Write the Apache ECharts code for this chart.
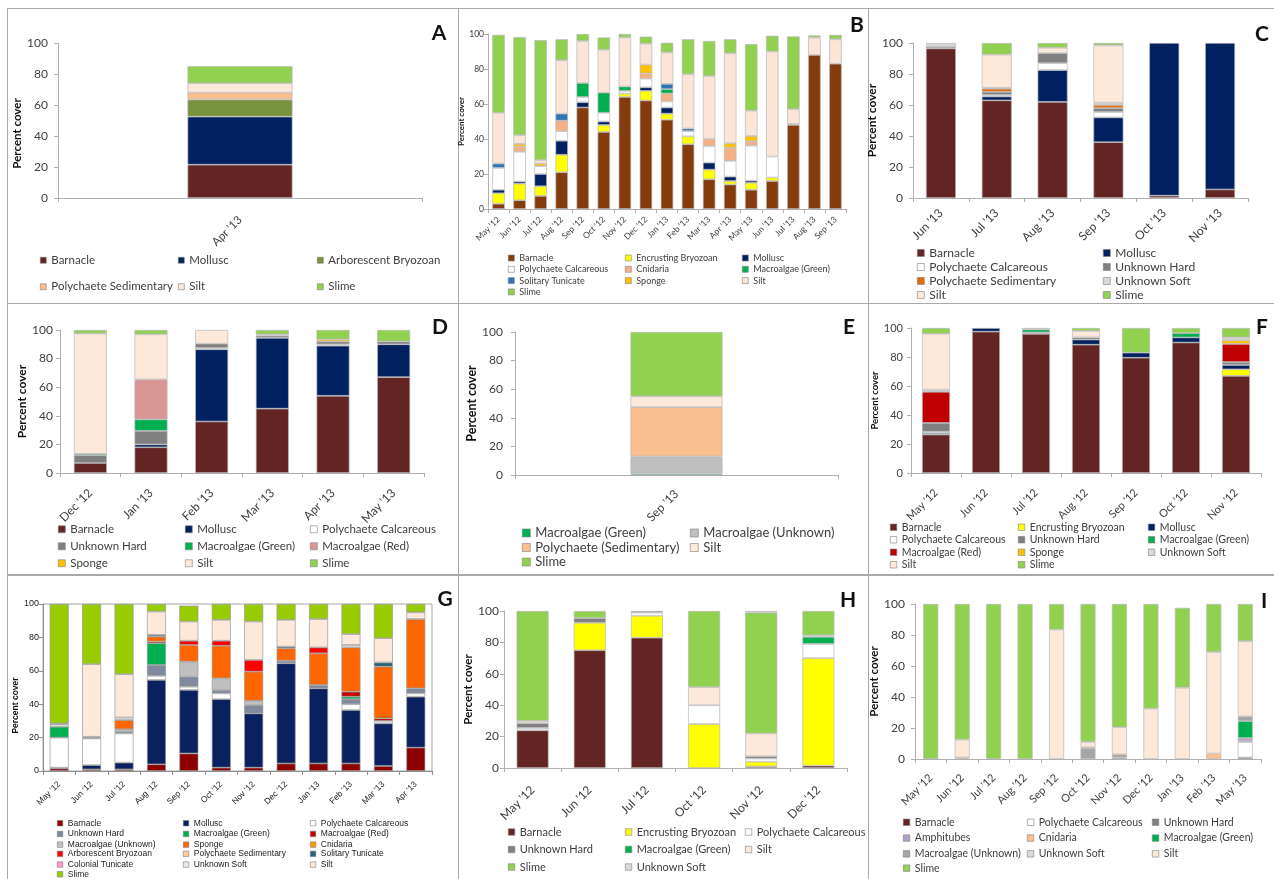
<!DOCTYPE html>
<html><head><meta charset="utf-8">
<script src="https://cdn.jsdelivr.net/npm/echarts/dist/echarts.min.js"></script>
<style>
html,body{margin:0;padding:0;background:#fff;}
body{width:1274px;height:879px;position:relative;overflow:hidden;}
.chart{position:absolute;left:0;top:0;width:1274px;height:879px;}
.rule{position:absolute;background:#a9a9a9;}
.letter{position:absolute;font:bold 21px Lato, "Open Sans", sans-serif;color:#111;transform:translate(-50%,-50%);line-height:1;}
</style></head><body>
<script>
// ---------------- DATA ----------------
// Panel A
const A_categories = ["Apr '13"];
const A_barnacle = [21.5];
const A_mollusc = [31];
const A_arborescentBryozoan = [11];
const A_polychaeteSedimentary = [4.5];
const A_silt = [6];
const A_slime = [11];

// Panel B
const B_categories = ["May '12","Jun '12","Jul '12","Aug '12","Sep '12","Oct '12","Nov '12","Dec '12","Jan '13","Feb '13","Mar '13","Apr '13","May '13","Jun '13","Jul '13","Aug '13","Sep '13"];
const B_barnacle = [3, 5, 7.5, 21, 58, 44, 64, 62, 51, 37, 17, 14, 11, 16, 48, 88, 83];
const B_encrustingBryozoan = [6, 9.5, 5.5, 10, 0, 4, 2, 5.5, 3.5, 4.5, 5.5, 2, 4, 2, 0, 0, 0];
const B_mollusc = [2, 1.2, 7, 8, 3, 2, 0, 2, 3.5, 0, 4, 2.5, 1.2, 0, 0, 0, 0];
const B_polychaeteCalcareous = [12.5, 17, 4.5, 5.5, 3, 5, 1.5, 5, 3.5, 3, 9.5, 9, 20, 12, 0.6, 0, 0];
const B_cnidaria = [0, 3, 0, 6, 0, 0, 0, 3, 4.5, 0, 4, 7.5, 2.5, 0, 0, 0, 0];
const B_macroalgaeGreen = [0, 0, 0, 0, 8, 11.5, 2.5, 0, 2.5, 0, 0, 0, 0, 0, 0, 0, 0];
const B_solitaryTunicate = [2.5, 0, 0, 4, 0, 0, 0, 0, 3, 1.5, 0, 0, 0, 0, 0, 0, 0];
const B_sponge = [0, 1.5, 1.5, 0, 0, 0, 0, 5, 0, 0, 0, 2.5, 3, 0, 0, 0, 0];
const B_silt = [29, 5, 2, 30.5, 24, 24.5, 28, 12, 18, 31, 36, 51.5, 14.5, 60, 8.5, 10, 14];
const B_slime = [44.5, 56, 68.5, 12, 4, 7, 2, 4, 5.5, 20, 20, 8, 38, 9, 41.5, 1.2, 2.5];

// Panel C
const C_categories = ["Jun '13","Jul '13","Aug '13","Sep '13","Oct '13","Nov '13"];
const C_barnacle = [96.5, 63, 62, 36, 1.5, 5.5];
const C_mollusc = [0, 2.5, 20.5, 16, 98.5, 94.5];
const C_polychaeteCalcareous = [0, 1, 4.5, 3.5, 0, 0];
const C_unknownHard = [1, 2, 6.5, 2.5, 0, 0];
const C_polychaeteSedimentary = [0, 2, 0, 2, 0, 0];
const C_unknownSoft = [2.5, 0.5, 0, 1.5, 0, 0];
const C_silt = [0, 21.5, 3.5, 37, 0, 0];
const C_slime = [0, 7.5, 3, 1.5, 0, 0];

// Panel D
const D_categories = ["Dec '12","Jan '13","Feb '13","Mar '13","Apr '13","May '13"];
const D_barnacle = [7, 18, 36, 45, 54, 67];
const D_mollusc = [0, 2, 50.5, 49.5, 35, 23];
const D_polychaeteCalcareous = [0, 0, 1, 0, 1, 0];
const D_unknownHard = [5.5, 9.5, 3, 1.5, 2, 2];
const D_macroalgaeGreen = [1, 8, 0, 0, 0, 0];
const D_macroalgaeRed = [0, 28, 0, 0, 0, 0];
const D_sponge = [0, 0, 0, 0, 1.5, 0];
const D_silt = [84, 31.5, 9.5, 1, 0, 0];
const D_slime = [2.5, 3, 0, 3, 6.5, 8];

// Panel E
const E_categories = ["Sep '13"];
const E_macroalgaeGreen = [1];
const E_macroalgaeUnknown = [12];
const E_polychaeteSedimentary = [34.5];
const E_silt = [7.5];
const E_slime = [45];

// Panel F
const F_categories = ["May '12","Jun '12","Jul '12","Aug '12","Sep '12","Oct '12","Nov '12"];
const F_barnacle = [26.5, 97.5, 96, 88.5, 79.5, 90, 67];
const F_encrustingBryozoan = [0, 0, 0, 0, 0, 0, 4.5];
const F_mollusc = [1, 2.5, 0, 3.5, 3.5, 3.5, 3];
const F_polychaeteCalcareous = [1, 0, 0, 0, 0, 0, 0];
const F_unknownHard = [6, 0, 1, 1.5, 0, 0, 2];
const F_macroalgaeGreen = [0, 0, 2, 0, 0, 3, 0];
const F_macroalgaeRed = [21.5, 0, 0, 0, 0, 0, 12.5];
const F_sponge = [0, 0, 0, 0, 0, 0, 2.5];
const F_unknownSoft = [1.5, 0, 1, 0, 0, 0, 2];
const F_silt = [38.5, 0, 0, 4.5, 0, 0, 0];
const F_slime = [4, 0, 0, 2, 17, 3.5, 6.5];

// Panel G
const G_categories = ["May '12","Jun '12","Jul '12","Aug '12","Sep '12","Oct '12","Nov '12","Dec '12","Jan '13","Feb '13","Mar '13","Apr '13"];
const G_barnacle = [1.5, 1, 1, 4, 10.5, 2, 2, 4.5, 4.5, 4.5, 3, 14];
const G_mollusc = [0.5, 2.5, 4, 50.5, 38, 41, 32.5, 60, 45, 32, 25.5, 30.5];
const G_polychaeteCalcareous = [18, 16, 17.5, 2.5, 2, 3.5, 0, 0, 0, 3.5, 1.5, 2];
const G_unknownHard = [0, 0.5, 1, 6.5, 6, 2, 5, 1.5, 2, 3, 0, 3];
const G_macroalgaeGreen = [6.5, 0, 0, 13, 0, 0, 0, 0, 0, 1.5, 0, 0];
const G_macroalgaeRed = [0, 0, 0, 1, 0, 0, 0, 0, 0, 3, 1.5, 0];
const G_macroalgaeUnknown = [0, 0, 1.5, 0, 9, 7, 2.5, 0, 0, 0, 0, 0];
const G_sponge = [0, 0, 5.5, 3, 10, 19.5, 17.5, 7.5, 19, 26.5, 31, 41.5];
const G_cnidaria = [0, 0, 0, 0, 0, 0, 0, 0, 0, 0, 0, 0];
const G_arborescentBryozoan = [0, 0, 0, 0, 2.5, 3, 7, 0, 3.5, 0, 0, 0];
const G_polychaeteSedimentary = [0, 0.5, 0, 0, 0, 0, 0, 0, 0, 0, 0, 0];
const G_solitaryTunicate = [0, 0, 0, 1, 0, 0, 0, 1, 0, 0, 2.5, 0];
const G_colonialTunicate = [0, 0, 0, 0, 0, 0, 0, 0, 0, 0, 0, 0];
const G_unknownSoft = [1.5, 0, 1.5, 0, 0, 0, 0, 0, 0, 1.5, 0, 0];
const G_silt = [0.5, 43.5, 26, 14, 11.5, 12.5, 23, 16, 17, 6.5, 14.5, 4];
const G_slime = [71.5, 36, 42, 4.5, 9.5, 9.5, 10.5, 9.5, 9, 18, 20.5, 5];

// Panel H
const H_categories = ["May '12","Jun '12","Jul '12","Oct '12","Nov '12","Dec '12"];
const H_barnacle = [24, 75, 83, 0, 1, 1.5];
const H_encrustingBryozoan = [0, 17.5, 14, 28, 3, 68.5];
const H_polychaeteCalcareous = [1.5, 0, 2, 12, 2, 9];
const H_unknownHard = [3, 3, 1, 0, 1.5, 0];
const H_macroalgaeGreen = [0, 0, 0, 0, 0, 4.5];
const H_silt = [1.5, 0, 0, 11.5, 14.5, 1];
const H_slime = [70, 4.5, 0, 48.5, 77, 15.5];
const H_unknownSoft = [0, 0, 0, 0, 1, 0];

// Panel I
const I_categories = ["May '12","Jun '12","Jul '12","Aug '12","Sep '12","Oct '12","Nov '12","Dec '12","Jan '13","Feb '13","May '13"];
const I_barnacle = [0, 0, 0, 0, 0, 0, 0, 0, 0, 0, 1];
const I_polychaeteCalcareous = [0, 0, 0, 0, 0, 0, 0, 0, 0, 0, 10];
const I_unknownHard = [0, 0, 0, 0, 0, 0, 1, 0, 0, 0, 0.5];
const I_amphitubes = [0, 0, 0, 0, 0, 0, 0, 0, 0, 0, 2];
const I_cnidaria = [0, 1, 0, 0, 0, 0, 0, 0, 0, 3.5, 0];
const I_macroalgaeGreen = [0, 0, 0, 0, 0, 0, 0, 0, 0, 0, 11];
const I_macroalgaeUnknown = [0, 0, 0, 0, 0, 7, 2, 0, 0, 0, 3];
const I_unknownSoft = [0, 0, 0, 0, 0, 0.5, 0, 0, 0, 0, 0];
const I_silt = [0, 11.5, 0, 0, 83.5, 3.5, 17.5, 32.5, 46, 65.5, 48.5];
const I_slime = [100, 87.5, 100, 100, 16.5, 89, 79.5, 67.5, 51.5, 31, 24];

// ---------------- RENDERING ----------------
const FONT = 'Lato, "Open Sans", sans-serif';
const FONT_ARIAL = '"Liberation Sans", Arial, sans-serif';

function makePanel(p) {
  const el = document.createElement('div');
  el.className = 'chart';
  document.body.appendChild(el);
  const chart = echarts.init(el, null, { renderer: 'canvas', width: 1274, height: 879 });
  const ff = p.font || FONT;
  const txt = p.textColor || '#404040';
  const axisCol = p.axisColor || '#b0b0b0';
  const colorOf = {};
  const series = p.series.map(s => {
    colorOf[s[0]] = s[1];
    return {
      name: s[0], type: 'bar', stack: 'cover', barWidth: p.barWidth,
      data: s[2].map(v => (v === 0 ? '-' : v)),
      itemStyle: { color: s[1], borderColor: p.barBorder || '#b8b8b8', borderWidth: 0.7 },
      emphasis: { disabled: true }, silent: true
    };
  });
  // each legend column: [x, items, firstRowIndex]
  const legends = p.legendCols.map(col => ({
    orient: 'vertical', left: col[0],
    top: p.legendTop + (col[2] || 0) * p.legendStep - p.legendFont / 2,
    itemGap: p.legendStep - p.legendFont, itemWidth: p.icon, itemHeight: p.icon,
    padding: 0, selectedMode: false, icon: 'rect',
    data: col[1].map(n => ({
      name: n,
      itemStyle: { color: colorOf[n], borderColor: '#7f7f7f', borderWidth: 0.6 }
    })),
    textStyle: { fontFamily: ff, fontSize: p.legendFont, color: txt }
  }));
  chart.setOption({
    animation: false,
    backgroundColor: 'transparent',
    textStyle: { fontFamily: ff },
    grid: {
      left: p.grid[0], top: p.grid[1], width: p.grid[2], height: p.grid[3],
      show: !!p.gridBorder, borderColor: p.gridBorder || '#ccc', borderWidth: 1,
      backgroundColor: 'transparent', containLabel: false, outerBoundsMode: 'none'
    },
    xAxis: {
      type: 'category', data: p.cats,
      axisLine: { lineStyle: { color: axisCol } },
      axisTick: { show: true, length: 4, lineStyle: { color: axisCol } },
      axisLabel: { rotate: 45, interval: 0, fontSize: p.xFont, color: txt, margin: p.xMargin, fontFamily: ff },
      splitLine: { show: false }
    },
    yAxis: {
      type: 'value', min: 0, max: 100, interval: 20,
      axisLine: { show: true, lineStyle: { color: axisCol } },
      axisTick: { show: true, length: 4, lineStyle: { color: axisCol } },
      splitLine: { show: false },
      axisLabel: { fontSize: p.yFont, color: txt, margin: p.yMargin, fontFamily: ff },
      name: 'Percent cover', nameLocation: 'middle', nameGap: p.nameGap,
      nameTextStyle: { fontWeight: 'bold', fontSize: p.nameFont, color: '#111', fontFamily: ff, padding: p.namePad || 0 }
    },
    legend: legends,
    series: series
  });
}

// Panel A
makePanel({
  cats: A_categories, grid: [58, 43, 364, 155], barWidth: 105,
  yFont: 12, yMargin: 10, xFont: 11.5, xMargin: 20, nameFont: 11.5, nameGap: 32, namePad: [0, 26, 0, 0],
  legendFont: 11.5, legendTop: 260, legendStep: 26, icon: 6,
  legendCols: [[40, ['Barnacle', 'Polychaete Sedimentary']], [178, ['Mollusc', 'Silt']], [317, ['Arborescent Bryozoan', 'Slime']]],
  series: [
    ['Barnacle', '#632523', A_barnacle],
    ['Mollusc', '#002060', A_mollusc],
    ['Arborescent Bryozoan', '#77933c', A_arborescentBryozoan],
    ['Polychaete Sedimentary', '#fabf8f', A_polychaeteSedimentary],
    ['Silt', '#fde9d9', A_silt],
    ['Slime', '#92d050', A_slime]
  ]
});

// Panel B
makePanel({
  cats: B_categories, grid: [488, 34, 358, 175], barWidth: 12.5,
  yFont: 8.5, yMargin: 4, xFont: 8.5, xMargin: 9, nameFont: 8, nameGap: 15,
  legendFont: 9, legendTop: 258, legendStep: 11.3, icon: 6,
  legendCols: [
    [508, ['Barnacle', 'Polychaete Calcareous', 'Solitary Tunicate']],
    [508, ['Slime'], 3],
    [625, ['Encrusting Bryozoan', 'Cnidaria', 'Sponge']],
    [742, ['Mollusc', 'Macroalgae (Green)', 'Silt']]
  ],
  series: [
    ['Barnacle', '#843c0c', B_barnacle],
    ['Encrusting Bryozoan', '#ffff00', B_encrustingBryozoan],
    ['Mollusc', '#002060', B_mollusc],
    ['Polychaete Calcareous', '#ffffff', B_polychaeteCalcareous],
    ['Cnidaria', '#f4b183', B_cnidaria],
    ['Macroalgae (Green)', '#00b050', B_macroalgaeGreen],
    ['Solitary Tunicate', '#2e75b6', B_solitaryTunicate],
    ['Sponge', '#ffc000', B_sponge],
    ['Silt', '#fbe5d6', B_silt],
    ['Slime', '#92d050', B_slime]
  ]
});

// Panel C
makePanel({
  cats: C_categories, grid: [913, 43, 335, 155], barWidth: 30,
  yFont: 12, yMargin: 10, xFont: 12, xMargin: 13, nameFont: 12, nameGap: 30,
  legendFont: 12, legendTop: 253, legendStep: 14, icon: 7,
  legendCols: [
    [917, ['Barnacle', 'Polychaete Calcareous', 'Polychaete Sedimentary', 'Silt']],
    [1103, ['Mollusc', 'Unknown Hard', 'Unknown Soft', 'Slime']]
  ],
  series: [
    ['Barnacle', '#632523', C_barnacle],
    ['Mollusc', '#002060', C_mollusc],
    ['Polychaete Calcareous', '#ffffff', C_polychaeteCalcareous],
    ['Unknown Hard', '#808080', C_unknownHard],
    ['Polychaete Sedimentary', '#e46c0a', C_polychaeteSedimentary],
    ['Unknown Soft', '#d9d9d9', C_unknownSoft],
    ['Silt', '#fde9d9', C_silt],
    ['Slime', '#92d050', C_slime]
  ]
});

// Panel D
makePanel({
  cats: D_categories, grid: [60, 330, 364, 143], barWidth: 33,
  yFont: 12, yMargin: 7, xFont: 12, xMargin: 18, nameFont: 12, nameGap: 31,
  legendFont: 11.5, legendTop: 529, legendStep: 16.5, icon: 7,
  legendCols: [
    [58, ['Barnacle', 'Unknown Hard', 'Sponge']],
    [185, ['Mollusc', 'Macroalgae (Green)', 'Silt']],
    [310, ['Polychaete Calcareous', 'Macroalgae (Red)', 'Slime']]
  ],
  series: [
    ['Barnacle', '#632523', D_barnacle],
    ['Mollusc', '#002060', D_mollusc],
    ['Polychaete Calcareous', '#ffffff', D_polychaeteCalcareous],
    ['Unknown Hard', '#808080', D_unknownHard],
    ['Macroalgae (Green)', '#00b050', D_macroalgaeGreen],
    ['Macroalgae (Red)', '#da9694', D_macroalgaeRed],
    ['Sponge', '#ffc000', D_sponge],
    ['Silt', '#fde9d9', D_silt],
    ['Slime', '#92d050', D_slime]
  ]
});

// Panel E
makePanel({
  cats: E_categories, grid: [515, 332, 323, 143], barWidth: 92,
  yFont: 12, yMargin: 12, xFont: 12, xMargin: 17, nameFont: 12.5, nameGap: 36,
  legendFont: 13, legendTop: 533, legendStep: 14.5, icon: 8,
  legendCols: [
    [522, ['Macroalgae (Green)', 'Polychaete (Sedimentary)', 'Slime']],
    [690, ['Macroalgae (Unknown)', 'Silt']]
  ],
  series: [
    ['Macroalgae (Green)', '#00b050', E_macroalgaeGreen],
    ['Macroalgae (Unknown)', '#bfbfbf', E_macroalgaeUnknown],
    ['Polychaete (Sedimentary)', '#fabf8f', E_polychaeteSedimentary],
    ['Silt', '#fde9d9', E_silt],
    ['Slime', '#92d050', E_slime]
  ]
});

// Panel F
makePanel({
  cats: F_categories, grid: [911, 328, 350, 145], barWidth: 28,
  yFont: 11, yMargin: 8, xFont: 11, xMargin: 18, nameFont: 9.5, nameGap: 30,
  legendFont: 10.5, legendTop: 527, legendStep: 12, icon: 6.5,
  legendCols: [
    [890, ['Barnacle', 'Polychaete Calcareous', 'Macroalgae (Red)', 'Silt']],
    [1018, ['Encrusting Bryozoan', 'Unknown Hard', 'Sponge', 'Slime']],
    [1148, ['Mollusc', 'Macroalgae (Green)', 'Unknown Soft']]
  ],
  series: [
    ['Barnacle', '#632523', F_barnacle],
    ['Encrusting Bryozoan', '#ffff00', F_encrustingBryozoan],
    ['Mollusc', '#002060', F_mollusc],
    ['Polychaete Calcareous', '#ffffff', F_polychaeteCalcareous],
    ['Unknown Hard', '#808080', F_unknownHard],
    ['Macroalgae (Green)', '#00b050', F_macroalgaeGreen],
    ['Macroalgae (Red)', '#c00000', F_macroalgaeRed],
    ['Sponge', '#ffc000', F_sponge],
    ['Unknown Soft', '#d9d9d9', F_unknownSoft],
    ['Silt', '#fde9d9', F_silt],
    ['Slime', '#92d050', F_slime]
  ]
});

// Panel G
makePanel({
  cats: G_categories, grid: [43, 604, 389, 167], gridBorder: '#a6a6a6', barWidth: 19,
  font: FONT_ARIAL, textColor: '#222', axisColor: '#909090', barBorder: '#999',
  yFont: 9, yMargin: 4, xFont: 8.5, xMargin: 12, nameFont: 8.5, nameGap: 22, namePad: [0, 36, 0, 0],
  legendFont: 8.5, legendTop: 823, legendStep: 10.2, icon: 5.5,
  legendCols: [
    [57, ['Barnacle', 'Unknown Hard', 'Macroalgae (Unknown)']],
    [57, ['Arborescent Bryozoan', 'Colonial Tunicate']],
    [57, ['Slime'], 5],
    [183, ['Mollusc', 'Macroalgae (Green)', 'Sponge']],
    [183, ['Polychaete Sedimentary', 'Unknown Soft'], 3],
    [310, ['Polychaete Calcareous', 'Macroalgae (Red)', 'Cnidaria']],
    [310, ['Solitary Tunicate', 'Silt'], 3]
  ].map(c => (c[1][0] === 'Arborescent Bryozoan' ? [c[0], c[1], 3] : c)),
  series: [
    ['Barnacle', '#8c0000', G_barnacle],
    ['Mollusc', '#0a205f', G_mollusc],
    ['Polychaete Calcareous', '#ffffff', G_polychaeteCalcareous],
    ['Unknown Hard', '#7f8a9c', G_unknownHard],
    ['Macroalgae (Green)', '#00b050', G_macroalgaeGreen],
    ['Macroalgae (Red)', '#c00000', G_macroalgaeRed],
    ['Macroalgae (Unknown)', '#c0c0c0', G_macroalgaeUnknown],
    ['Sponge', '#ff6600', G_sponge],
    ['Cnidaria', '#ff9900', G_cnidaria],
    ['Arborescent Bryozoan', '#ff0000', G_arborescentBryozoan],
    ['Polychaete Sedimentary', '#ffcc99', G_polychaeteSedimentary],
    ['Solitary Tunicate', '#2b6278', G_solitaryTunicate],
    ['Colonial Tunicate', '#ff99cc', G_colonialTunicate],
    ['Unknown Soft', '#eaeaea', G_unknownSoft],
    ['Silt', '#fde9d9', G_silt],
    ['Slime', '#99cc00', G_slime]
  ]
});

// Panel H
makePanel({
  cats: H_categories, grid: [504, 611, 343, 157], barWidth: 32,
  yFont: 12, yMargin: 5, xFont: 12, xMargin: 20, nameFont: 11.5, nameGap: 27.5,
  legendFont: 11, legendTop: 832, legendStep: 17.5, icon: 6.5,
  legendCols: [
    [508, ['Barnacle', 'Unknown Hard', 'Slime']],
    [625, ['Encrusting Bryozoan', 'Macroalgae (Green)', 'Unknown Soft']],
    [745, ['Polychaete Calcareous', 'Silt']]
  ],
  series: [
    ['Barnacle', '#632523', H_barnacle],
    ['Encrusting Bryozoan', '#ffff00', H_encrustingBryozoan],
    ['Polychaete Calcareous', '#ffffff', H_polychaeteCalcareous],
    ['Unknown Hard', '#808080', H_unknownHard],
    ['Macroalgae (Green)', '#00b050', H_macroalgaeGreen],
    ['Silt', '#fde9d9', H_silt],
    ['Slime', '#92d050', H_slime],
    ['Unknown Soft', '#d9d9d9', H_unknownSoft]
  ]
});

// Panel I
makePanel({
  cats: I_categories, grid: [915, 604, 346, 155], barWidth: 15,
  yFont: 12, yMargin: 10, xFont: 11, xMargin: 17, nameFont: 11.5, nameGap: 27.5,
  legendFont: 10.5, legendTop: 822, legendStep: 15.3, icon: 6.5,
  legendCols: [
    [903, ['Barnacle', 'Amphitubes', 'Macroalgae (Unknown)']],
    [903, ['Slime'], 3],
    [1027, ['Polychaete Calcareous', 'Cnidaria', 'Unknown Soft']],
    [1152, ['Unknown Hard', 'Macroalgae (Green)', 'Silt']]
  ],
  series: [
    ['Barnacle', '#632523', I_barnacle],
    ['Polychaete Calcareous', '#ffffff', I_polychaeteCalcareous],
    ['Unknown Hard', '#808080', I_unknownHard],
    ['Amphitubes', '#b3a2c7', I_amphitubes],
    ['Cnidaria', '#fac090', I_cnidaria],
    ['Macroalgae (Green)', '#00b050', I_macroalgaeGreen],
    ['Macroalgae (Unknown)', '#a6a6a6', I_macroalgaeUnknown],
    ['Unknown Soft', '#d9d9d9', I_unknownSoft],
    ['Silt', '#fde9d9', I_silt],
    ['Slime', '#92d050', I_slime]
  ]
});

// Panel frames and letters
const rules = [
  [7, 8, 1267, 1], [7, 8, 1, 871],
  [458, 8, 1, 871], [868, 8, 1, 871],
  [7, 303, 1267, 1], [7, 574, 1267, 2]
];
rules.forEach(r => {
  const d = document.createElement('div');
  d.className = 'rule';
  d.style.left = r[0] + 'px'; d.style.top = r[1] + 'px';
  d.style.width = r[2] + 'px'; d.style.height = r[3] + 'px';
  document.body.insertBefore(d, document.body.firstChild);
});
const panelLetters = [['A', 439, 31], ['B', 857, 23], ['C', 1262, 32], ['D', 440, 325], ['E', 849, 325], ['F', 1262, 325], ['G', 445, 597], ['H', 848, 598], ['I', 1264, 599]];
panelLetters.forEach(l => {
  const d = document.createElement('div');
  d.className = 'letter';
  d.textContent = l[0];
  d.style.left = l[1] + 'px'; d.style.top = l[2] + 'px';
  document.body.appendChild(d);
});
</script>
</body></html>
